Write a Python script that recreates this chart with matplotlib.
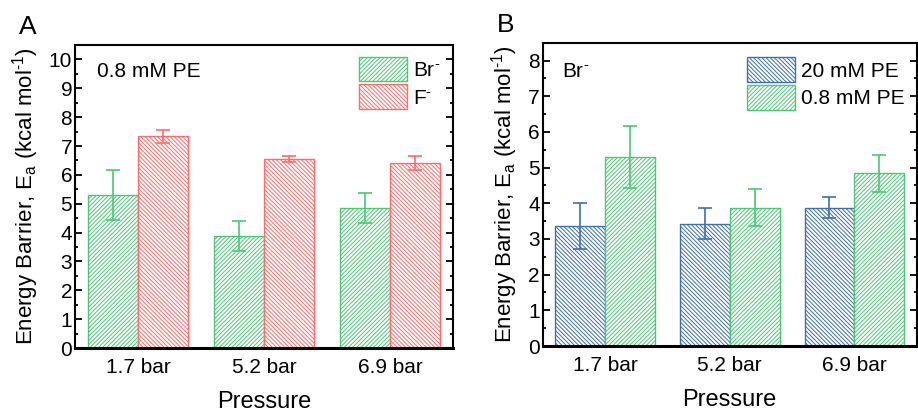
import numpy as np
import matplotlib
matplotlib.use("Agg")
import matplotlib.pyplot as plt

plt.rcParams["font.family"] = ["Liberation Sans", "DejaVu Sans"]
plt.rcParams["mathtext.fontset"] = "custom"
plt.rcParams["mathtext.rm"] = "Liberation Sans"
plt.rcParams["mathtext.it"] = "Liberation Sans"
plt.rcParams["hatch.linewidth"] = 0.7

# =========================================================
# Data
# =========================================================
pressures = ["1.7 bar", "5.2 bar", "6.9 bar"]

# Panel A: 0.8 mM PE, Br- vs F-
br_08 = [5.30, 3.88, 4.84]
br_08_err = [0.86, 0.53, 0.52]
f_08 = [7.33, 6.56, 6.41]
f_08_err = [0.23, 0.11, 0.23]

# Panel B: Br-, 20 mM PE vs 0.8 mM PE
br_20 = [3.36, 3.43, 3.88]
br_20_err = [0.64, 0.43, 0.30]

GREEN = "#4cc775"
RED = "#ff6b6b"
BLUE = "#3e6fae"
HATCH_F = "/" * 8
HATCH_B = "\\" * 8
SUP_MINUS = r"$^{\text{-}}$"

W, H = 918, 412
fig = plt.figure(figsize=(W / 100, H / 100), dpi=100)


def style_axes(ax, ymax):
    ax.set_xlim(0.5, 3.5)
    ax.set_ylim(0, ymax)
    ax.set_xticks([1, 2, 3])
    ax.set_xticklabels(pressures)
    ax.set_yticks(np.arange(0, int(ymax) + 1, 1))
    ax.set_yticks(np.arange(0.5, ymax, 1), minor=True)
    ax.tick_params(axis="y", which="both", direction="in", left=True, right=True,
                   labelsize=15, pad=2, width=1.3)
    ax.tick_params(axis="y", which="major", length=5)
    ax.tick_params(axis="y", which="minor", length=2.5)
    ax.tick_params(axis="x", which="both", length=0, labelsize=15, pad=7)
    for s in ax.spines.values():
        s.set_linewidth(1.5)
    ax.spines["bottom"].set_linewidth(2.2)
    ax.set_xlabel("Pressure", fontsize=17, labelpad=10)
    ax.set_ylabel(r"Energy Barrier, E$_\mathregular{a}$ (kcal mol$^{\text{-1}}$)",
                  fontsize=16, labelpad=6)


def draw_bars(ax, vals, errs, color, hatch, offset, label):
    x = np.arange(1, len(vals) + 1) + offset
    ax.bar(x, vals, width=0.4, facecolor="white", edgecolor=color, hatch=hatch,
           linewidth=1.0, label=label, zorder=2)
    ax.errorbar(x, vals, yerr=errs, fmt="none", ecolor=color, elinewidth=1.2,
                capsize=5, capthick=1.2, zorder=3)


def add_legend(ax, anchor):
    ax.legend(loc="upper left", bbox_to_anchor=anchor, frameon=False,
              fontsize=15, handlelength=2.3, handleheight=1.45, handletextpad=0.3,
              labelspacing=0.15, borderpad=0, borderaxespad=0)


# =========================================================
# Panel A
# =========================================================
axA = fig.add_axes([75 / W, 1 - 348 / H, 378 / W, 303 / H])
draw_bars(axA, br_08, br_08_err, GREEN, HATCH_F, -0.2, "Br" + SUP_MINUS)
draw_bars(axA, f_08, f_08_err, RED, HATCH_B, 0.2, "F" + SUP_MINUS)
style_axes(axA, 10.5)
axA.text(0.059, 0.914, "0.8 mM PE", transform=axA.transAxes, fontsize=15,
         ha="left", va="center")
add_legend(axA, (0.751, 0.962))

# =========================================================
# Panel B
# =========================================================
axB = fig.add_axes([542.7 / W, 1 - 346 / H, 374 / W, 303.3 / H])
draw_bars(axB, br_20, br_20_err, BLUE, HATCH_B, -0.2, "20 mM PE")
draw_bars(axB, br_08, br_08_err, GREEN, HATCH_F, 0.2, "0.8 mM PE")
style_axes(axB, 8.5)
axB.text(0.052, 0.904, "Br" + SUP_MINUS, transform=axB.transAxes,
         fontsize=15, ha="left", va="center")
add_legend(axB, (0.547, 0.952))

fig.text(19 / W, 1 - 27.5 / H, "A", fontsize=19, ha="left", va="center")
fig.text(497 / W, 1 - 25.5 / H, "B", fontsize=19, ha="left", va="center")

fig.savefig("out.png", dpi=100)
